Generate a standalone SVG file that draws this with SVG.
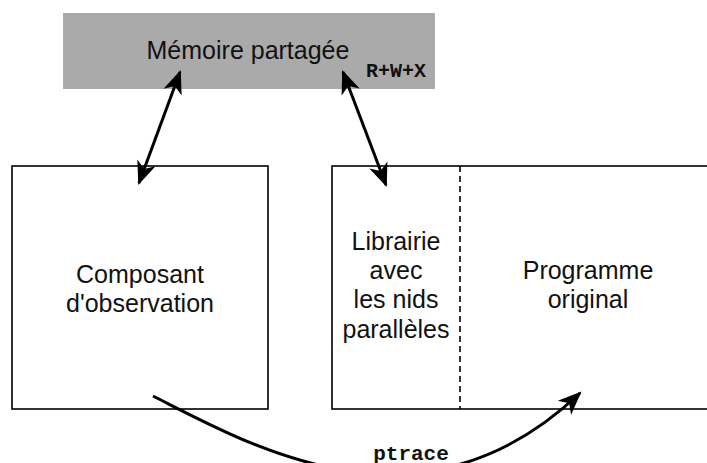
<svg xmlns="http://www.w3.org/2000/svg" width="707" height="463" viewBox="0 0 707 463">
<style>
.box{fill:#fff;stroke:#000;stroke-width:1.6}
.lbl{font-family:"Liberation Sans",Arial,sans-serif;font-size:25px;fill:#111;text-anchor:middle}
.mono{font-family:"Liberation Mono","Courier New",monospace;font-weight:bold;fill:#111}
.arr{fill:none;stroke:#000;stroke-width:3}
</style>
<defs>
<marker id="ah" markerUnits="userSpaceOnUse" markerWidth="30" markerHeight="30" viewBox="-24 -12 28 24" refX="0" refY="0" orient="auto-start-reverse">
<path d="M2,0 L-20,-9 L-14,0 L-20,9 Z" fill="#000"/>
</marker>
</defs>
<rect width="707" height="463" fill="#fff"/>
<g id="memoire">
<rect x="63" y="13" width="372" height="76" fill="#aaaaaa"/>
<text class="lbl" x="248" y="59">Mémoire partagée</text>
<text class="mono" x="396" y="77" font-size="20" text-anchor="middle">R+W+X</text>
</g>
<g id="observation">
<rect class="box" x="12" y="166" width="256" height="243"/>
<text class="lbl" x="140" y="283">Composant</text>
<text class="lbl" x="140" y="312">d'observation</text>
</g>
<g id="programme">
<rect class="box" x="332" y="166" width="390" height="243"/>
<line x1="460" y1="166" x2="460" y2="409" stroke="#000" stroke-width="1.6" stroke-dasharray="6,4"/>
<text class="lbl" x="396" y="250">Librairie</text>
<text class="lbl" x="396" y="279">avec</text>
<text class="lbl" x="396" y="308">les nids</text>
<text class="lbl" x="396" y="338">parallèles</text>
<text class="lbl" x="588" y="279">Programme</text>
<text class="lbl" x="588" y="308">original</text>
</g>
<g id="connectors">
<line class="arr" x1="180" y1="72" x2="139" y2="183" marker-start="url(#ah)" marker-end="url(#ah)"/>
<line class="arr" x1="343" y1="72" x2="386" y2="185" marker-start="url(#ah)" marker-end="url(#ah)"/>
<path class="arr" d="M153,396 C250,445 420,545 580,393" marker-end="url(#ah)"/>
<text class="mono" x="411" y="460" font-size="21" text-anchor="middle">ptrace</text>
</g>
</svg>
